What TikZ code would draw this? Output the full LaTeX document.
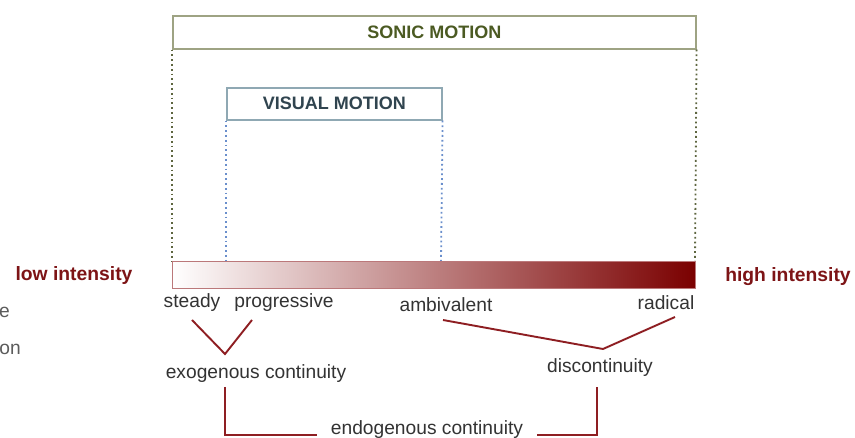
\documentclass[tikz,border=0pt]{standalone}
\usepackage{fontspec}
\setmainfont{Liberation Sans}
\begin{document}
\begin{tikzpicture}[x=1pt,y=-1pt,
  olive/.style={draw=olivebd,line width=1.6pt},
  slate/.style={draw=slatebd,line width=1.6pt},
  title/.style={font=\fontsize{18}{21}\selectfont\bfseries},
  label/.style={font=\fontsize{19.2}{22}\selectfont,text=labtx,inner sep=0pt},
  intens/.style={font=\fontsize{19.3}{22}\selectfont\bfseries,text=deepred,inner sep=0pt},
  link/.style={draw=linkred,line width=1.9pt},
  guide/.style={line width=1.8pt,dash pattern=on 1.8pt off 3pt}]
\definecolor{olivebd}{HTML}{9EA383}
\definecolor{olivetx}{HTML}{4B5A22}
\definecolor{slatebd}{HTML}{8FA8B3}
\definecolor{slatetx}{HTML}{30444F}
\definecolor{bluedot}{HTML}{6A8FCC}
\definecolor{olivedot}{HTML}{5E6640}
\definecolor{deepred}{HTML}{7D1416}
\definecolor{linkred}{HTML}{8E1E22}
\definecolor{barend}{HTML}{7A0000}
\definecolor{labtx}{HTML}{333333}
\useasboundingbox (0,0) rectangle (855,438);
\fill[white] (0,0) rectangle (855,438);

% sonic motion frame and its guides
\node[olive,minimum width=523pt,minimum height=33pt,anchor=north west,inner sep=0pt] (sonic) at (172,15) {};
\node[title,text=olivetx] (sonictx) at (sonic.center) {SONIC MOTION};
\coordinate (sl) at (172,261);
\coordinate (sr) at (695,261);
\draw[guide,olivedot] (sonic.south west) -- (sl);
\draw[guide,olivedot] (sonic.south east) -- (sr);

% visual motion frame and its guides
\node[slate,minimum width=215pt,minimum height=32pt,anchor=north west,inner sep=0pt] (visual) at (226,87) {};
\node[title,text=slatetx] (visualtx) at (visual.center) {VISUAL MOTION};
\coordinate (vl) at (226,261);
\coordinate (vr) at (441,261);
\draw[guide,bluedot] (visual.south west) -- (vl);
\draw[guide,bluedot] (visual.south east) -- (vr);

% intensity scale
\node[anchor=north west,minimum width=523pt,minimum height=27pt,inner sep=0pt,
  left color=white,right color=barend,draw=linkred!60,line width=0.6pt] (bar) at (172,261) {};
\node[intens] (low) at (74,276) {low intensity};
\node[intens] (high) at (788,277) {high intensity};

% cut-off text at the left margin
\node[label,text=labtx!80,anchor=east] (fraga) at (10,312) {e};
\node[label,text=labtx!80,anchor=east] (fragb) at (21,349) {on};

% categories
\node[label] (steady) at (192,303) {steady};
\node[label] (prog) at (284,303) {progressive};
\node[label] (amb) at (446,305) {ambivalent};
\node[label] (rad) at (666,303) {radical};
\node[label] (exo) at (256,374) {exogenous continuity};
\node[label] (disc) at (600,368) {discontinuity};
\node[label] (endo) at (427,430) {endogenous continuity};

% groupings
\coordinate (va) at (225,354);
\draw[link,line join=miter] (192,320) -- (va) -- (252,320);
\coordinate (vb) at (603,349);
\draw[link,line join=miter] (443,320) -- (vb) -- (675,317);
\draw[link,line join=miter] (225,387) -- (225,435) -- (317,435);
\draw[link,line join=miter] (537,435) -- (597,435) -- (597,387);
\end{tikzpicture}
\end{document}
